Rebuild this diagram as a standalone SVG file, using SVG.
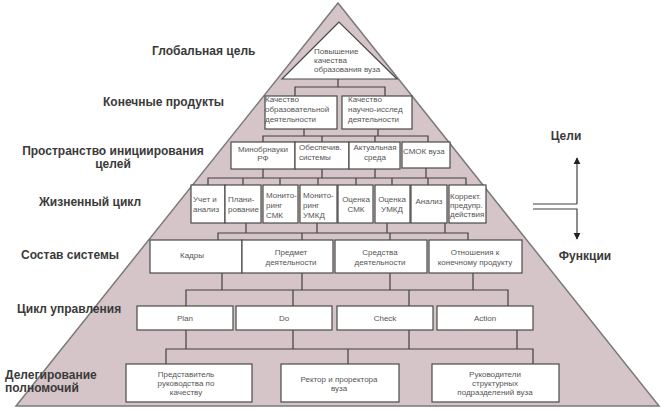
<svg xmlns="http://www.w3.org/2000/svg" width="661" height="410" viewBox="0 0 661 410">
<defs>
<style>
.lbl{font-family:"Liberation Sans",Arial,sans-serif;font-size:12px;font-weight:bold;fill:#3a3a3a}
.box{fill:#ffffff;stroke:#4a4a4a;stroke-width:1.2}
.t{font-family:"Liberation Sans",Arial,sans-serif;font-size:8px;fill:#555555}
.c{text-anchor:middle}
.con path{fill:none;stroke:#404040;stroke-width:1.2}
</style>
<marker id="ah" viewBox="0 0 10 10" refX="9" refY="5" markerWidth="6" markerHeight="6" orient="auto-start-reverse">
<path d="M0,0 L10,5 L0,10 z" fill="#222"/>
</marker>
</defs>
<rect width="661" height="410" fill="#ffffff"/>
<polygon id="pyramid" points="338,3 16,406 659,406" fill="#d5c5c8" stroke="#7a7a7a" stroke-width="1.5"/>

<g id="labels">
<text class="lbl" x="152" y="55">Глобальная цель</text>
<text class="lbl" x="103" y="106">Конечные продукты</text>
<text class="lbl" x="113" y="155" text-anchor="middle">Пространство инициирования</text>
<text class="lbl" x="113" y="168" text-anchor="middle">целей</text>
<text class="lbl" x="39" y="206">Жизненный цикл</text>
<text class="lbl" x="21" y="259">Состав системы</text>
<text class="lbl" x="17" y="313">Цикл управления</text>
<text class="lbl" x="5" y="379">Делегирование</text>
<text class="lbl" x="5" y="392">полномочий</text>
<text class="lbl" x="566" y="140" text-anchor="middle">Цели</text>
<text class="lbl" x="585" y="260" text-anchor="middle">Функции</text>
</g>

<g class="con" id="connectors">
<path d="M338,79 V87 M295,96 V87 H385 V96"/>
<path d="M304,129 V136 M378,129 V136 M263,142 V136 H428 V142 M322,136 V142 M375,136 V142"/>
<path d="M263,169 V178 M322,169 V178 M375,169 V178 M426,168 V178 M208,185 V178 H466 V185 M243,178 V185 M280,178 V185 M318,178 V185 M356,178 V185 M392,178 V185 M428,178 V185"/>
<path d="M246,223 V233 M317,223 V233 M387,223 V233 M445,223 V233 M218,240 V233 H468 V240 M302,233 V240 M390,233 V240"/>
<path d="M222,273 V290 M302,273 V290 M390,273 V290 M473,273 V290 M186,306 V290 H508 V306 M293,290 V306 M409,290 V306"/>
<path d="M186,330 V349 M293,330 V349 M409,330 V349 M517,330 V349 M166,364 V349 H533 V364 M348,349 V364"/>
<path d="M577,204 V158" marker-end="url(#ah)"/>
<path d="M533,204 H577"/>
<path d="M533,209 H577 V239" marker-end="url(#ah)"/>
</g>

<g id="n-global">
<polygon points="339,22 282,79 397,79" fill="#ffffff" stroke="#4a4a4a" stroke-width="1.2"/>
<text class="t" x="314" y="54">Повышение</text>
<text class="t" x="314" y="63">качества</text>
<text class="t" x="314" y="72">образования вуза</text>
</g>

<g id="n-kach-obr"><rect class="box" x="265" y="96" width="72" height="33"/>
<text class="t" x="265" y="102">Качество</text><text class="t" x="265" y="112">образовательной</text><text class="t" x="265" y="122">деятельности</text></g>
<g id="n-kach-nauch"><rect class="box" x="342" y="96" width="70" height="33"/>
<text class="t" x="348" y="102">Качество</text><text class="t" x="348" y="112">научно-исслед</text><text class="t" x="348" y="122">деятельности</text></g>

<g id="n-minobr"><rect class="box" x="231" y="142" width="64" height="27"/>
<text class="t c" x="263" y="152">Минобрнауки</text><text class="t c" x="263" y="161">РФ</text></g>
<g id="n-obesp"><rect class="box" x="295" y="142" width="54" height="27"/>
<text class="t" x="299" y="150">Обеспечив.</text><text class="t" x="299" y="160">системы</text></g>
<g id="n-aktual"><rect class="box" x="349" y="142" width="51" height="27"/>
<text class="t c" x="375" y="150">Актуальная</text><text class="t c" x="375" y="160">среда</text></g>
<g id="n-smok"><rect class="box" x="402" y="142" width="48" height="26"/>
<text class="t" x="403" y="154">СМОК вуза</text></g>

<g id="n-uchet"><rect class="box" x="191" y="185" width="34" height="38"/>
<text class="t" x="193" y="202">Учет и</text><text class="t" x="193" y="212">анализ</text></g>
<g id="n-plan"><rect class="box" x="225" y="185" width="36" height="38"/>
<text class="t" x="228" y="202">Плани-</text><text class="t" x="228" y="212">рование</text></g>
<g id="n-mon-smk"><rect class="box" x="263" y="185" width="35" height="38"/>
<text class="t" x="266" y="198">Монито-</text><text class="t" x="266" y="208">ринг</text><text class="t" x="266" y="218">СМК</text></g>
<g id="n-mon-umkd"><rect class="box" x="300" y="185" width="37" height="38"/>
<text class="t" x="303" y="198">Монито-</text><text class="t" x="303" y="208">ринг</text><text class="t" x="303" y="218">УМКД</text></g>
<g id="n-oc-smk"><rect class="box" x="338" y="185" width="35" height="38"/>
<text class="t c" x="356" y="202">Оценка</text><text class="t c" x="356" y="212">СМК</text></g>
<g id="n-oc-umkd"><rect class="box" x="375" y="185" width="35" height="38"/>
<text class="t c" x="392" y="202">Оценка</text><text class="t c" x="392" y="212">УМКД</text></g>
<g id="n-analiz"><rect class="box" x="411" y="185" width="36" height="38"/>
<text class="t c" x="429" y="204">Анализ</text></g>
<g id="n-korr"><rect class="box" x="449" y="185" width="37" height="38"/>
<text class="t" x="450" y="199">Коррект.</text><text class="t" x="450" y="208">предупр.</text><text class="t" x="450" y="217">действия</text></g>

<g id="n-kadry"><rect class="box" x="150" y="240" width="92" height="33"/>
<text class="t c" x="192" y="258">Кадры</text></g>
<g id="n-predmet"><rect class="box" x="242" y="240" width="91" height="33"/>
<text class="t c" x="291" y="255">Предмет</text><text class="t c" x="291" y="265">деятельности</text></g>
<g id="n-sredstva"><rect class="box" x="335" y="240" width="92" height="33"/>
<text class="t c" x="380" y="255">Средства</text><text class="t c" x="380" y="265">деятельности</text></g>
<g id="n-otnosh"><rect class="box" x="429" y="240" width="93" height="33"/>
<text class="t c" x="475" y="255">Отношения к</text><text class="t c" x="475" y="265">конечному продукту</text></g>

<g id="n-plan-p"><rect class="box" x="137" y="306" width="96" height="24"/>
<text class="t c" x="185" y="321">Plan</text></g>
<g id="n-do"><rect class="box" x="236" y="306" width="96" height="24"/>
<text class="t c" x="284" y="321">Do</text></g>
<g id="n-check"><rect class="box" x="337" y="306" width="96" height="24"/>
<text class="t c" x="385" y="321">Check</text></g>
<g id="n-action"><rect class="box" x="437" y="306" width="96" height="24"/>
<text class="t c" x="485" y="321">Action</text></g>

<g id="n-predst"><rect class="box" x="126" y="364" width="126" height="38"/>
<text class="t c" x="186" y="377">Представитель</text><text class="t c" x="186" y="386">руководства по</text><text class="t c" x="186" y="395">качеству</text></g>
<g id="n-rektor"><rect class="box" x="281" y="364" width="118" height="38"/>
<text class="t c" x="339" y="382">Ректор и проректора</text><text class="t c" x="339" y="391">вуза</text></g>
<g id="n-rukov"><rect class="box" x="432" y="364" width="127" height="38"/>
<text class="t c" x="495" y="377">Руководители</text><text class="t c" x="495" y="386">структурных</text><text class="t c" x="495" y="395">подразделений вуза</text></g>
</svg>
